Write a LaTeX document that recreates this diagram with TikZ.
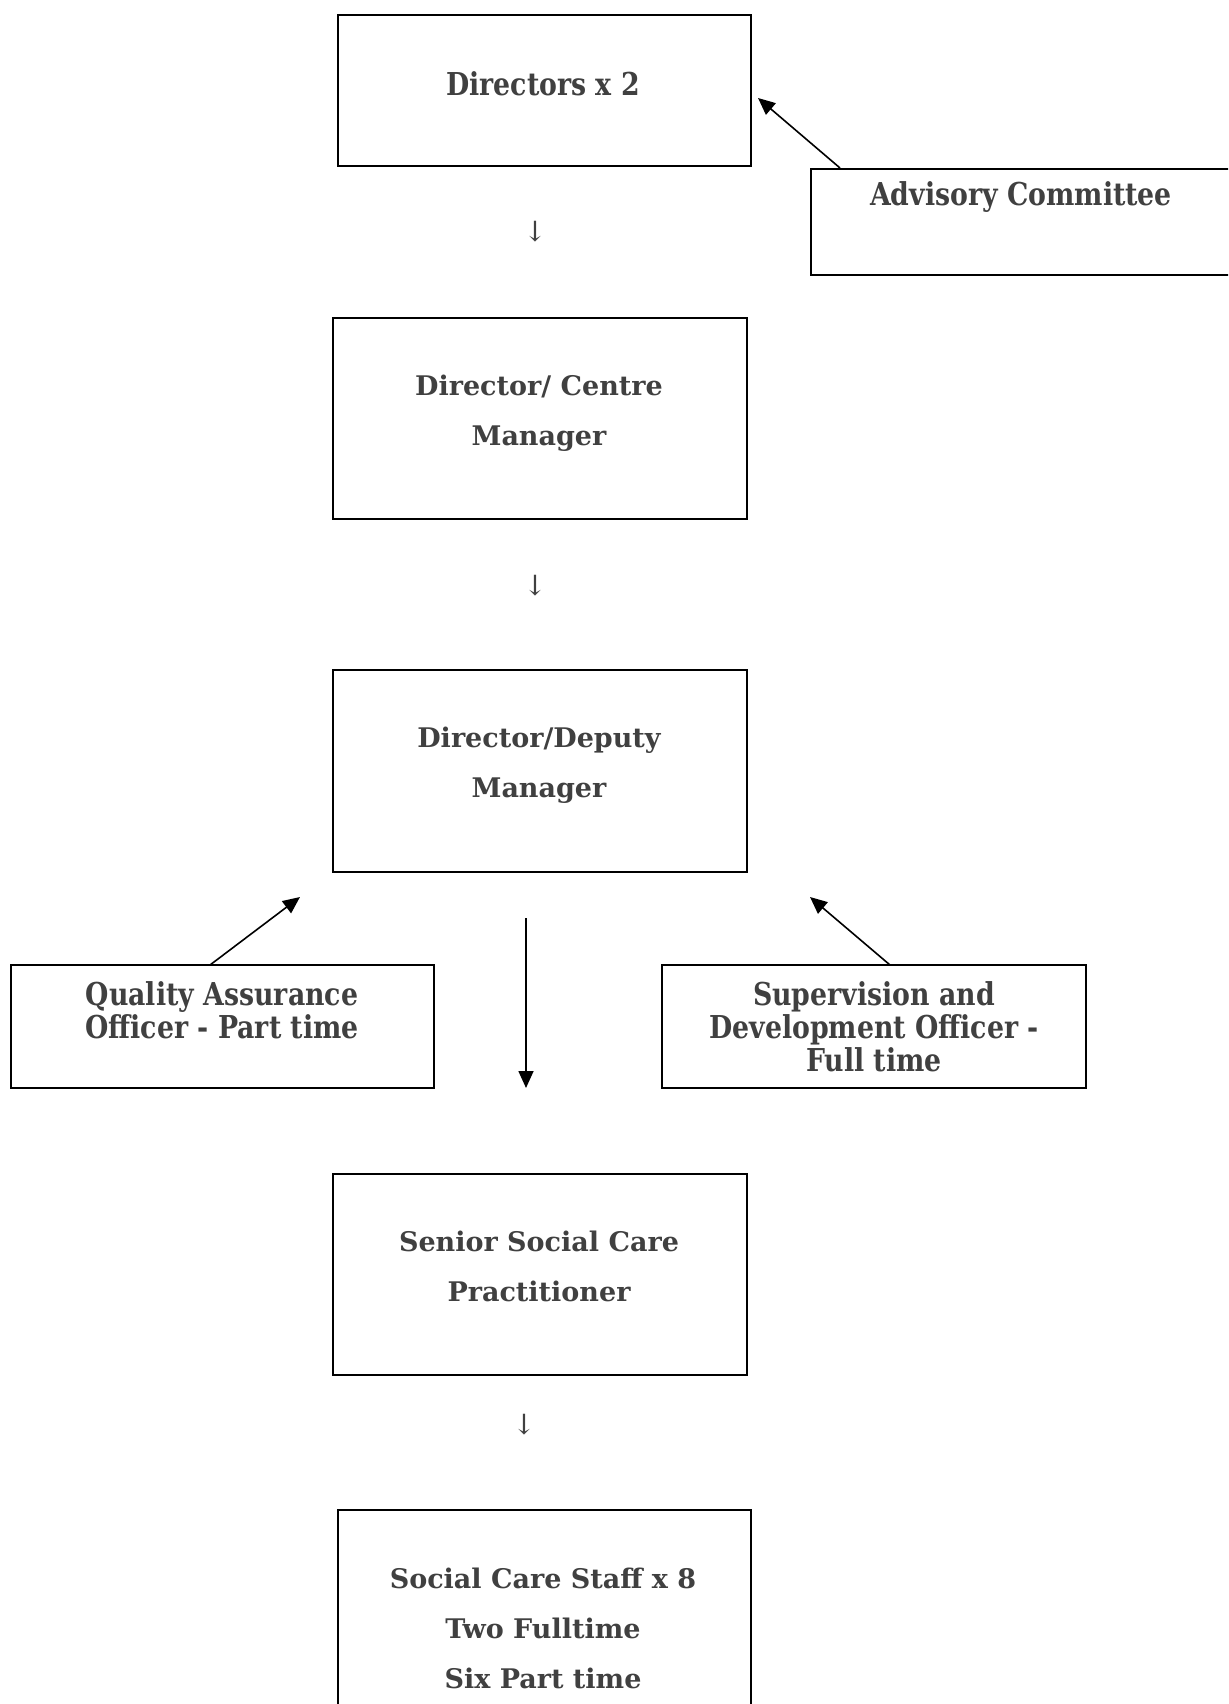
\documentclass[tikz,border=0pt]{standalone}
\usepackage{fontspec}
\setmainfont{DejaVu Serif}
\newfontfamily\narrowfont[FakeStretch=0.85]{DejaVu Serif}
\usetikzlibrary{arrows.meta}
\definecolor{txt}{HTML}{404040}
\tikzset{
  box/.style={draw=black, line width=1.8pt, inner sep=0pt},
  lbl/.style={text=txt, align=center, inner sep=0pt, font=\bfseries\fontsize{27}{50}\selectfont},
  nlbl/.style={text=txt, align=center, inner sep=0pt, font=\narrowfont\bfseries\fontsize{31.5}{33}\selectfont},
  darr/.style={text=txt, inner sep=0pt, font=\fontsize{28}{28}\selectfont},
  con/.style={line width=1.6pt, -{Triangle[length=17pt,width=15pt]}}
}
\begin{document}
\begin{tikzpicture}[x=1pt,y=-1pt]
\useasboundingbox (0,0) rectangle (1228,1704);
\clip (0,0) rectangle (1228,1704);
% boxes
\node[box, minimum width=413pt, minimum height=151pt] (dir) at (544.5,90.5) {};
\node[box, minimum width=430pt, minimum height=106pt, anchor=north west] (adv) at (810,168) {};
\node[box, minimum width=414pt, minimum height=201pt] (dcm) at (540,418.5) {};
\node[box, minimum width=414pt, minimum height=202pt] (ddm) at (540,771) {};
\node[box, minimum width=423pt, minimum height=123pt] (qa) at (222.5,1026.5) {};
\node[box, minimum width=424pt, minimum height=123pt] (sdo) at (874,1026.5) {};
\node[box, minimum width=414pt, minimum height=201pt] (ssc) at (540,1274.5) {};
\node[box, minimum width=413pt, minimum height=220pt, anchor=north] (scs) at (544.5,1509) {};
% texts
\node[nlbl] (tdir) at (543,84) {Directors x 2};
\node[nlbl] (tadv) at (1021,197) {Advisory Committee};
\node[lbl] (tdcm) at (539,413) {Director/ Centre\\Manager};
\node[lbl] (tddm) at (539,765) {Director/Deputy\\Manager};
\node[nlbl] (tqa) at (222,1010) {Quality Assurance\\Officer - Part time};
\node[nlbl] (tsdo) at (874,1027) {Supervision and\\Development Officer -\\Full time};
\node[lbl] (tssc) at (539,1266) {Senior Social Care\\Practitioner};
\node[lbl] (tscs) at (543,1628) {Social Care Staff x 8\\Two Fulltime\\Six Part time};
% down arrow glyphs
\node[darr] (a1) at (535,232) {↓};
\node[darr] (a2) at (535,586) {↓};
\node[darr] (a3) at (524,1425) {↓};
% connectors
\coordinate (advs) at (840,168);
\coordinate (adve) at (758,98);
\draw[con] (advs) -- (adve);
\coordinate (qas) at (210,965);
\coordinate (qae) at (300,897);
\draw[con] (qas) -- (qae);
\coordinate (sds) at (890,965);
\coordinate (sde) at (810,897);
\draw[con] (sds) -- (sde);
\coordinate (cs) at (526,918);
\coordinate (ce) at (526,1088);
\draw[con] (cs) -- (ce);
\end{tikzpicture}
\end{document}
